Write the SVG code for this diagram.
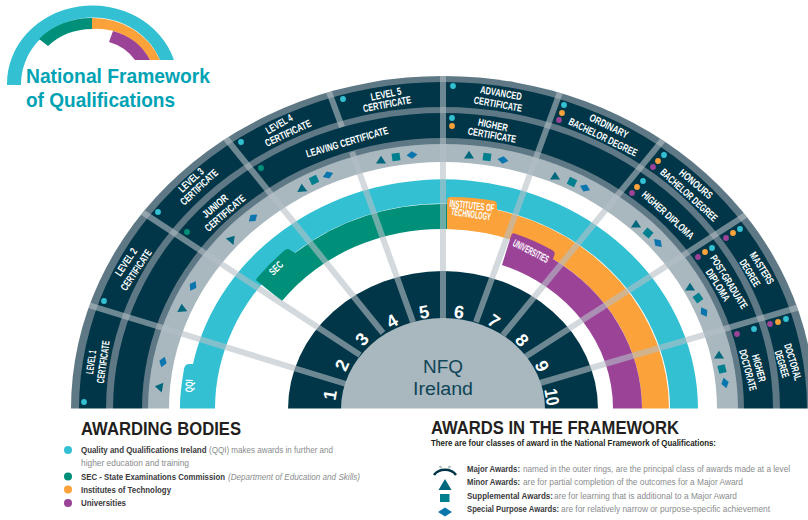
<svg xmlns="http://www.w3.org/2000/svg" xmlns:xlink="http://www.w3.org/1999/xlink" width="808" height="520" viewBox="0 0 808 520">
<style>
text{font-family:"Liberation Sans",Arial,sans-serif}
.l{font-size:10.5px;font-weight:700;fill:#fff;text-anchor:middle}
.n{font-size:18px;font-weight:700;fill:#fff;text-anchor:middle}
.c{font-size:18px;fill:#0e4557;text-anchor:middle}
.h{font-size:18.500px;font-weight:700;fill:#231f20}
.b{font-size:8.200px;font-weight:700;fill:#3a3a3c}
.g{font-size:8.200px;fill:#8a8c8e}
.i{font-style:italic}
.t{font-size:20px;font-weight:700;fill:#00a3b4}
.cy{fill:#34c0d3}.gr{fill:#009079}.or{fill:#fba23a}.pu{fill:#9b4497}
.ba{fill:#5f7885}.da{fill:#003647}.li{fill:#a9b7bf}
.s{stroke:#b5c0c6;stroke-opacity:.6;stroke-width:6;fill:none}
.mt{fill:#00687c}.ms{fill:#007f8f}.md{fill:#0a76ad}
</style>
<defs>
<clipPath id="rim"><path d="M71 409A372 333 0 0 1 815 409Z"/></clipPath>
<polygon id="T" class="mt" points="0,-4.200 5,3.600 -5,3.600"/>
<rect id="S" class="ms" x="-4" y="-3.800" width="8" height="7.600"/>
<polygon id="D" class="md" points="-5.500,0 0,-3.800 5.500,0 0,3.800"/>
<circle id="dc" class="cy" r="2.900"/>
<circle id="dg" class="gr" r="2.900"/>
<circle id="do" class="or" r="2.900"/>
<circle id="dp" class="pu" r="2.900"/>
</defs>
<rect width="808" height="520" fill="#fff"/>

<g id="logo">
<path class="cy" d="M7 85A85.500 78 0 0 1 174 60L160 60A72 67 0 0 0 21 85Z"/>
<path class="gr" d="M92 18A72 67 0 0 0 39 39L48 46A62 56 0 0 1 92 29Z"/>
<path class="or" d="M92 18A72 67 0 0 1 160 60L150 60A60 56 0 0 0 92 29Z"/>
<path class="pu" d="M113 31A60 56 0 0 1 150 60L135 60A48 46 0 0 0 109 42Z"/>
<text class="t" x="26" y="83" textLength="184" lengthAdjust="spacingAndGlyphs">National Framework</text>
<text class="t" x="26" y="107" textLength="149" lengthAdjust="spacingAndGlyphs">of Qualifications</text>
</g>

<g id="rings">
<ellipse class="ba" cx="443" cy="409" rx="372" ry="333"/>
<ellipse class="da" cx="443" cy="409" rx="364" ry="327"/>
<ellipse class="ba" cx="443" cy="409" rx="337" ry="302"/>
<ellipse class="da" cx="443" cy="409" rx="330" ry="296"/>
<ellipse class="ba" cx="443" cy="409" rx="301" ry="271"/>
<ellipse class="li" cx="443" cy="409" rx="295" ry="265"/>
<ellipse fill="#fff" cx="443" cy="409" rx="274" ry="247"/>
<path id="band-qqi" class="cy" d="M180 409Q179.500 395 184 369Q185 364 189 364L193 364A255 230 0 0 1 698 409L670 409A227 205 0 0 0 215 409Z"/>
<path id="band-sec" class="gr" d="M447 204A226 205 0 0 0 295 253L290 250Q288 248 285 250A236 214 0 0 0 258 277Q255 280 257 281L282 301A199 180 0 0 1 447 229Z"/>
<path id="band-it" class="or" d="M447 229L447 201Q447 197 451 197A235 213 0 0 1 495 201Q497 202 497 205L497 210A226 205 0 0 1 669 409L642 409A199 180 0 0 0 447 229Z"/>
<path id="band-uni" class="pu" d="M502 265L511 236Q512 232 516 234A207 187 0 0 1 552 250Q556 252 554 256L553 259A199 180 0 0 1 642 409L613 409A170 153 0 0 0 502 265Z"/>
<ellipse class="da" cx="443" cy="409" rx="155" ry="138"/>
</g>

<g id="connectors" clip-path="url(#rim)">
<path class="s" d="M85 304L346 384"/>
<path class="s" d="M136 208L360 355"/>
<path class="s" d="M220 131L383 333"/>
<path class="s" d="M325 81L342 127M352 152L413 322"/>
<path class="s" d="M443 70L443 320"/>
<path class="s" d="M563 84L476 322"/>
<path class="s" d="M667 135L503 335"/>
<path class="s" d="M752 211L525 357"/>
<path class="s" d="M803 306L540 383"/>
</g>

<g id="hub">
<ellipse class="li" cx="443" cy="409" rx="102" ry="91"/>
<text class="c" x="443" y="373" textLength="40" lengthAdjust="spacingAndGlyphs">NFQ</text>
<text class="c" x="443" y="395" textLength="60" lengthAdjust="spacingAndGlyphs">Ireland</text>
</g>
<rect x="0" y="408.500" width="808" height="111.500" fill="#fff"/>

<g id="numbers">
<text class="n" transform="translate(330 395) rotate(-80)" dy=".35em">1</text>
<text class="n" transform="translate(342 365) rotate(-65)" dy=".35em">2</text>
<text class="n" transform="translate(362 339) rotate(-48)" dy=".35em">3</text>
<text class="n" transform="translate(392 321) rotate(-30)" dy=".35em">4</text>
<text class="n" transform="translate(424 312) rotate(-10)" dy=".35em">5</text>
<text class="n" transform="translate(459 312) rotate(8)" dy=".35em">6</text>
<text class="n" transform="translate(494 321) rotate(35)" dy=".35em">7</text>
<text class="n" transform="translate(522 340) rotate(50)" dy=".35em">8</text>
<text class="n" transform="translate(542 366) rotate(65)" dy=".35em">9</text>
<text class="n" transform="translate(552 397) rotate(80)" dy=".35em" textLength="17" lengthAdjust="spacingAndGlyphs">10</text>
</g>

<g id="band-labels">
<text class="l" transform="translate(189 386) rotate(-88)" dy=".35em" textLength="13" lengthAdjust="spacingAndGlyphs">QQI</text>
<text class="l" transform="translate(276 268) rotate(-45)" dy=".35em" textLength="15" lengthAdjust="spacingAndGlyphs">SEC</text>
<text class="l" transform="translate(472 205.500) rotate(6)" dy=".35em" textLength="45" lengthAdjust="spacingAndGlyphs">INSTITUTES OF</text>
<text class="l" transform="translate(471 214) rotate(8)" dy=".35em" textLength="40" lengthAdjust="spacingAndGlyphs">TECHNOLOGY</text>
<text class="l" transform="translate(531 251) rotate(27)" dy=".35em" textLength="39" lengthAdjust="spacingAndGlyphs">UNIVERSITIES</text>
</g>

<g id="level-1-certificate">
<use xlink:href="#dc" href="#dc" x="84" y="402"/>
<text class="l" transform="translate(91 362) rotate(-82)" dy=".35em" textLength="24" lengthAdjust="spacingAndGlyphs">LEVEL 1</text>
<text class="l" transform="translate(103 362) rotate(-82)" dy=".35em" textLength="43" lengthAdjust="spacingAndGlyphs">CERTIFICATE</text>
</g>
<g id="level-2-certificate">
<use xlink:href="#dc" href="#dc" x="104" y="301"/>
<text class="l" transform="translate(126 262) rotate(-56)" dy=".35em" textLength="31" lengthAdjust="spacingAndGlyphs">LEVEL 2</text>
<text class="l" transform="translate(136 270) rotate(-56)" dy=".35em" textLength="47" lengthAdjust="spacingAndGlyphs">CERTIFICATE</text>
</g>
<g id="level-3-certificate">
<use xlink:href="#dc" href="#dc" x="158" y="212"/>
<text class="l" transform="translate(191 180) rotate(-43)" dy=".35em" textLength="30" lengthAdjust="spacingAndGlyphs">LEVEL 3</text>
<text class="l" transform="translate(199 187) rotate(-43)" dy=".35em" textLength="47" lengthAdjust="spacingAndGlyphs">CERTIFICATE</text>
</g>
<g id="junior-certificate">
<use xlink:href="#dg" href="#dg" x="187" y="232"/>
<text class="l" transform="translate(215 206) rotate(-41)" dy=".35em" textLength="30" lengthAdjust="spacingAndGlyphs">JUNIOR</text>
<text class="l" transform="translate(225 213) rotate(-41)" dy=".35em" textLength="50" lengthAdjust="spacingAndGlyphs">CERTIFICATE</text>
</g>
<g id="level-4-certificate">
<use xlink:href="#dc" href="#dc" x="241" y="142"/>
<text class="l" transform="translate(279 124) rotate(-30)" dy=".35em" textLength="29" lengthAdjust="spacingAndGlyphs">LEVEL 4</text>
<text class="l" transform="translate(288 133) rotate(-25)" dy=".35em" textLength="50" lengthAdjust="spacingAndGlyphs">CERTIFICATE</text>
</g>
<g id="leaving-certificate">
<use xlink:href="#dg" href="#dg" x="261" y="168"/>
<text class="l" transform="translate(347 142) rotate(-16.500)" dy=".35em" textLength="85" lengthAdjust="spacingAndGlyphs">LEAVING CERTIFICATE</text>
</g>
<g id="level-5-certificate">
<use xlink:href="#dc" href="#dc" x="343" y="99"/>
<text class="l" transform="translate(386 94) rotate(-12)" dy=".35em" textLength="31" lengthAdjust="spacingAndGlyphs">LEVEL 5</text>
<text class="l" transform="translate(387 104) rotate(-11)" dy=".35em" textLength="49" lengthAdjust="spacingAndGlyphs">CERTIFICATE</text>
</g>
<g id="advanced-certificate">
<use xlink:href="#dc" href="#dc" x="453" y="86"/>
<text class="l" transform="translate(501 93) rotate(10)" dy=".35em" textLength="42" lengthAdjust="spacingAndGlyphs">ADVANCED</text>
<text class="l" transform="translate(498 104) rotate(10)" dy=".35em" textLength="49" lengthAdjust="spacingAndGlyphs">CERTIFICATE</text>
</g>
<g id="higher-certificate">
<use xlink:href="#dc" href="#dc" x="452" y="118"/>
<use xlink:href="#do" href="#do" x="452" y="126"/>
<text class="l" transform="translate(493 125) rotate(12)" dy=".35em" textLength="30" lengthAdjust="spacingAndGlyphs">HIGHER</text>
<text class="l" transform="translate(492 135) rotate(10)" dy=".35em" textLength="49" lengthAdjust="spacingAndGlyphs">CERTIFICATE</text>
</g>
<g id="ordinary-bachelor-degree">
<use xlink:href="#dc" href="#dc" x="564" y="105"/>
<use xlink:href="#do" href="#do" x="562" y="113"/>
<use xlink:href="#dp" href="#dp" x="559" y="120"/>
<text class="l" transform="translate(609 126) rotate(26)" dy=".35em" textLength="42" lengthAdjust="spacingAndGlyphs">ORDINARY</text>
<text class="l" transform="translate(603 137) rotate(26)" dy=".35em" textLength="75" lengthAdjust="spacingAndGlyphs">BACHELOR DEGREE</text>
</g>
<g id="honours-bachelor-degree">
<use xlink:href="#dc" href="#dc" x="664" y="155"/>
<use xlink:href="#do" href="#do" x="658" y="161"/>
<use xlink:href="#dp" href="#dp" x="653" y="167"/>
<text class="l" transform="translate(696 184) rotate(40)" dy=".35em" textLength="40" lengthAdjust="spacingAndGlyphs">HONOURS</text>
<text class="l" transform="translate(689 195) rotate(42)" dy=".35em" textLength="73" lengthAdjust="spacingAndGlyphs">BACHELOR DEGREE</text>
</g>
<g id="higher-diploma">
<use xlink:href="#dc" href="#dc" x="643" y="181"/>
<use xlink:href="#do" href="#do" x="637" y="187"/>
<use xlink:href="#dp" href="#dp" x="632" y="193"/>
<text class="l" transform="translate(668 215) rotate(42)" dy=".35em" textLength="66" lengthAdjust="spacingAndGlyphs">HIGHER DIPLOMA</text>
</g>
<g id="masters-degree">
<use xlink:href="#dc" href="#dc" x="740" y="229"/>
<use xlink:href="#do" href="#do" x="733" y="233"/>
<use xlink:href="#dp" href="#dp" x="726" y="238"/>
<text class="l" transform="translate(762 268) rotate(58)" dy=".35em" textLength="36" lengthAdjust="spacingAndGlyphs">MASTERS</text>
<text class="l" transform="translate(750 273) rotate(58)" dy=".35em" textLength="30" lengthAdjust="spacingAndGlyphs">DEGREE</text>
</g>
<g id="post-graduate-diploma">
<use xlink:href="#dc" href="#dc" x="712" y="248"/>
<use xlink:href="#do" href="#do" x="705" y="252"/>
<use xlink:href="#dp" href="#dp" x="698" y="257"/>
<text class="l" transform="translate(729 282) rotate(58)" dy=".35em" textLength="61" lengthAdjust="spacingAndGlyphs">POST-GRADUATE</text>
<text class="l" transform="translate(718 285) rotate(58)" dy=".35em" textLength="36" lengthAdjust="spacingAndGlyphs">DIPLOMA</text>
</g>
<g id="higher-doctorate">
<use xlink:href="#dc" href="#dc" x="754" y="329"/>
<use xlink:href="#dp" href="#dp" x="737" y="334"/>
<text class="l" transform="translate(759 368) rotate(75)" dy=".35em" textLength="28" lengthAdjust="spacingAndGlyphs">HIGHER</text>
<text class="l" transform="translate(748 370) rotate(75)" dy=".35em" textLength="42" lengthAdjust="spacingAndGlyphs">DOCTORATE</text>
</g>
<g id="doctoral-degree">
<use xlink:href="#dc" href="#dc" x="786" y="319"/>
<use xlink:href="#do" href="#do" x="778" y="322"/>
<use xlink:href="#dp" href="#dp" x="770" y="324"/>
<text class="l" transform="translate(793 362) rotate(73)" dy=".35em" textLength="38" lengthAdjust="spacingAndGlyphs">DOCTORAL</text>
<text class="l" transform="translate(782 364) rotate(73)" dy=".35em" textLength="28" lengthAdjust="spacingAndGlyphs">DEGREE</text>
</g>

<g id="award-markers">
<use xlink:href="#T" href="#T" transform="translate(159 387) rotate(-80)"/>
<use xlink:href="#D" href="#D" transform="translate(163 362) rotate(-72)"/>
<use xlink:href="#T" href="#T" transform="translate(182 308) rotate(-5)"/>
<use xlink:href="#D" href="#D" transform="translate(193 286) rotate(-60)"/>
<use xlink:href="#T" href="#T" transform="translate(232 239) rotate(40)"/>
<use xlink:href="#D" href="#D" transform="translate(253 218) rotate(-40)"/>
<use xlink:href="#T" href="#T" transform="translate(302 188) rotate(-5)"/>
<use xlink:href="#S" href="#S" transform="translate(314 180) rotate(-25)"/>
<use xlink:href="#D" href="#D" transform="translate(328 175) rotate(-20)"/>
<use xlink:href="#T" href="#T" transform="translate(381 160)"/>
<use xlink:href="#S" href="#S" transform="translate(396 157) rotate(-8)"/>
<use xlink:href="#D" href="#D" transform="translate(412 155) rotate(-5)"/>
<use xlink:href="#T" href="#T" transform="translate(469 155)"/>
<use xlink:href="#S" href="#S" transform="translate(487 157) rotate(8)"/>
<use xlink:href="#D" href="#D" transform="translate(503 160) rotate(10)"/>
<use xlink:href="#T" href="#T" transform="translate(555 176)"/>
<use xlink:href="#S" href="#S" transform="translate(572 182) rotate(25)"/>
<use xlink:href="#D" href="#D" transform="translate(585 188) rotate(25)"/>
<use xlink:href="#T" href="#T" transform="translate(636 224)"/>
<use xlink:href="#S" href="#S" transform="translate(648 233) rotate(40)"/>
<use xlink:href="#D" href="#D" transform="translate(658 243) rotate(45)"/>
<use xlink:href="#T" href="#T" transform="translate(690 287)"/>
<use xlink:href="#S" href="#S" transform="translate(698 298) rotate(55)"/>
<use xlink:href="#D" href="#D" transform="translate(704 312) rotate(60)"/>
<use xlink:href="#T" href="#T" transform="translate(719 355)"/>
<use xlink:href="#S" href="#S" transform="translate(722 369) rotate(75)"/>
<use xlink:href="#D" href="#D" transform="translate(725 383) rotate(75)"/>
</g>

<g id="awarding-bodies">
<text class="h" x="81" y="435" textLength="160" lengthAdjust="spacingAndGlyphs">AWARDING BODIES</text>
<circle class="cy" cx="68" cy="450" r="4"/>
<circle class="gr" cx="68" cy="476.500" r="4"/>
<circle class="or" cx="68" cy="489.500" r="4"/>
<circle class="pu" cx="68" cy="503" r="4"/>
<text class="b" x="81" y="453" textLength="125.500" lengthAdjust="spacingAndGlyphs">Quality and Qualifications Ireland</text>
<text class="g" x="209" y="453" textLength="124" lengthAdjust="spacingAndGlyphs">(QQI) makes awards in further and</text>
<text class="g" x="81" y="466" textLength="108" lengthAdjust="spacingAndGlyphs">higher education and training</text>
<text class="b" x="81" y="479.500" textLength="144" lengthAdjust="spacingAndGlyphs">SEC - State Examinations Commission</text>
<text class="g i" x="228" y="479.500" textLength="132" lengthAdjust="spacingAndGlyphs">(Department of Education and Skills)</text>
<text class="b" x="81" y="493" textLength="90" lengthAdjust="spacingAndGlyphs">Institutes of Technology</text>
<text class="b" x="81" y="506" textLength="45" lengthAdjust="spacingAndGlyphs">Universities</text>
</g>

<g id="awards-in-the-framework">
<text class="h" x="431" y="434" textLength="248" lengthAdjust="spacingAndGlyphs">AWARDS IN THE FRAMEWORK</text>
<text class="b" x="431" y="446" style="fill:#231f20" textLength="285" lengthAdjust="spacingAndGlyphs">There are four classes of award in the National Framework of Qualifications:</text>
<path d="M434 475A13 11 0 0 1 456 475" fill="none" stroke="#003647" stroke-width="2.500"/>
<path d="M439.500 467.500L441.500 466.500M448.500 466.500L450.500 467.500" fill="none" stroke="#a9b7bf" stroke-width="2.500"/>
<polygon class="mt" points="445,479 451.500,490 438.500,490"/>
<rect class="ms" x="440" y="494" width="9.500" height="8"/>
<polygon class="md" points="438,512 445,507.500 452,512 445,516.500"/>
<text class="b" x="467" y="472" textLength="53" lengthAdjust="spacingAndGlyphs">Major Awards:</text>
<text class="g" x="523" y="472" textLength="267" lengthAdjust="spacingAndGlyphs">named in the outer rings, are the principal class of awards made at a level</text>
<text class="b" x="467" y="485" textLength="53" lengthAdjust="spacingAndGlyphs">Minor Awards:</text>
<text class="g" x="523" y="485" textLength="220" lengthAdjust="spacingAndGlyphs">are for partial completion of the outcomes for a Major Award</text>
<text class="b" x="467" y="498.500" textLength="86" lengthAdjust="spacingAndGlyphs">Supplemental Awards:</text>
<text class="g" x="554" y="498.500" textLength="183" lengthAdjust="spacingAndGlyphs">are for learning that is additional to a Major Award</text>
<text class="b" x="467" y="512" textLength="92" lengthAdjust="spacingAndGlyphs">Special Purpose Awards:</text>
<text class="g" x="561" y="512" textLength="209" lengthAdjust="spacingAndGlyphs">are for relatively narrow or purpose-specific achievement</text>
</g>
</svg>
